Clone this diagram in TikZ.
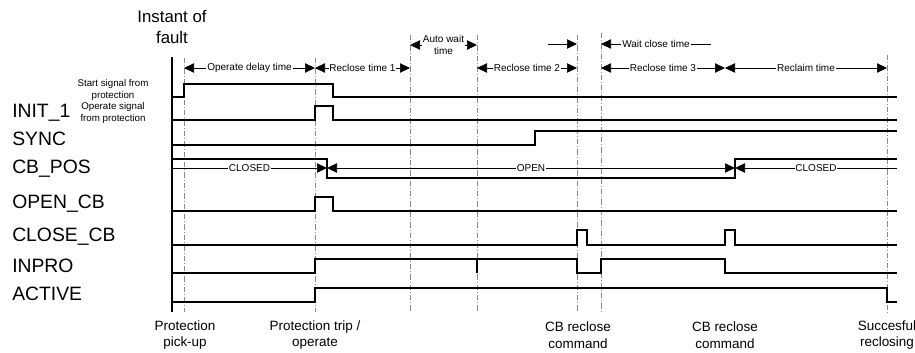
\documentclass[tikz,border=0pt]{standalone}
\usepackage{fontspec}
\setmainfont{Liberation Sans}
\usetikzlibrary{arrows.meta,positioning}
\definecolor{guidegray}{HTML}{8A8A8A}

\begin{document}
\begin{tikzpicture}[
  x=0.75pt, y=-0.75pt,
  sig/.style={line width=1.1pt, line join=miter},
  guide/.style={draw=guidegray, line width=0.5pt, dash pattern=on 4pt off 1.5pt on 0.8pt off 1.5pt},
  tip/.style={-{Triangle[length=7.5pt,width=7pt]}, line width=0.5pt},
  dim/.style={{Triangle[length=7.5pt,width=7pt]}-{Triangle[length=7.5pt,width=7pt]}, line width=0.5pt},
  dimlabel/.style={fill=white, inner xsep=0.6pt, inner ysep=0.6pt, font=\fontsize{7.5}{9}\selectfont},
  signame/.style={anchor=west, inner sep=0pt, font=\fontsize{14.5}{16}\selectfont},
  sidenote/.style={align=center, inner sep=0pt, font=\fontsize{7.3}{9.2}\selectfont},
  event/.style={align=center, inner sep=0pt, font=\fontsize{10.1}{12.5}\selectfont}
]
\useasboundingbox (0,0) rectangle (915,353);

\foreach \x/\top in {184/58,315/58,410/35,477/35,577/35,601/33,887/55}
  \draw[guide] (\x,\top) -- (\x,312);

\node[align=center, inner sep=0pt, font=\fontsize{12.6}{15.8}\selectfont] (instant) at (172,27) {Instant of\\fault};

\node[sidenote] (startNote) at (113,90) {Start signal from\\protection};
\node[sidenote] (operateNote) at (113,113) {Operate signal\\from protection};

\foreach \name/\y/\txt in {init/113/INIT\_1, sync/139/SYNC, cbPos/169/CB\_POS, openCb/204/OPEN\_CB,
                           closeCb/237/CLOSE\_CB, inpro/266/INPRO, active/294/ACTIVE}
  \node[signame] (\name) at (12,\y) {\txt};

\draw[sig] (172,57) -- (172,312);

\draw[sig] (172,97) -- (184,97) -- (184,84) -- (333,84) -- (333,97) -- (897,97);
\draw[sig] (172,120) -- (315,120) -- (315,106) -- (333,106) -- (333,120) -- (897,120);
\draw[sig] (172,145) -- (535,145) -- (535,131) -- (897,131);
\draw[sig] (172,159) -- (327,159) -- (327,178) -- (735,178) -- (735,159) -- (897,159);
\draw[sig] (172,211) -- (315,211) -- (315,197) -- (333,197) -- (333,211) -- (897,211);
\draw[sig] (172,245) -- (577,245) -- (577,230) -- (587,230) -- (587,245) -- (725,245)
  -- (725,230) -- (735,230) -- (735,245) -- (897,245);
\draw[sig] (172,273) -- (315,273) -- (315,259) -- (577,259) -- (577,273) -- (601,273)
  -- (601,259) -- (725,259) -- (725,273) -- (897,273);
\draw[sig] (477,259) -- (477,273);
\draw[sig] (172,302) -- (315,302) -- (315,288) -- (887,288) -- (887,302) -- (897,302);

\draw[tip] (172,168) -- node[dimlabel] (closedA) {CLOSED} (327,168);
\draw[dim] (327,168) -- node[dimlabel] (openLbl) {OPEN} (735,168);
\draw[tip] (897,168) -- node[dimlabel] (closedB) {CLOSED} (735,168);

\draw[dim] (184,68) -- node[dimlabel] (opDelay) {Operate delay time} (315,68);
\draw[dim] (315,68) -- node[dimlabel] (rcOne) {Reclose time 1} (410,68);
\draw[dim] (477,68) -- node[dimlabel] (rcTwo) {Reclose time 2} (577,68);
\draw[dim] (601,68) -- node[dimlabel] (rcThree) {Reclose time 3} (725,68);
\draw[dim] (725,68) -- node[dimlabel] (reclaim) {Reclaim time} (887,68);
\draw[dim] (410,45) -- node[dimlabel, align=center, font=\fontsize{7.5}{9}\selectfont] (autoWait) {Auto wait\\time} (477,45);
\draw[tip] (548,44) -- (577,44);
\draw[tip] (711,44) -- node[dimlabel] (waitClose) {Wait close time} (601,44);

\node[event] (pickup) at (185,335) {Protection\\pick-up};
\node[event] (trip) at (315,335) {Protection trip /\\operate};
\node[event] (cmdOne) at (578,335) {CB reclose\\command};
\node[event] (cmdTwo) at (725,335) {CB reclose\\command};
\node[event] (success) at (887,335) {Succesful\\reclosing};
\end{tikzpicture}
\end{document}
